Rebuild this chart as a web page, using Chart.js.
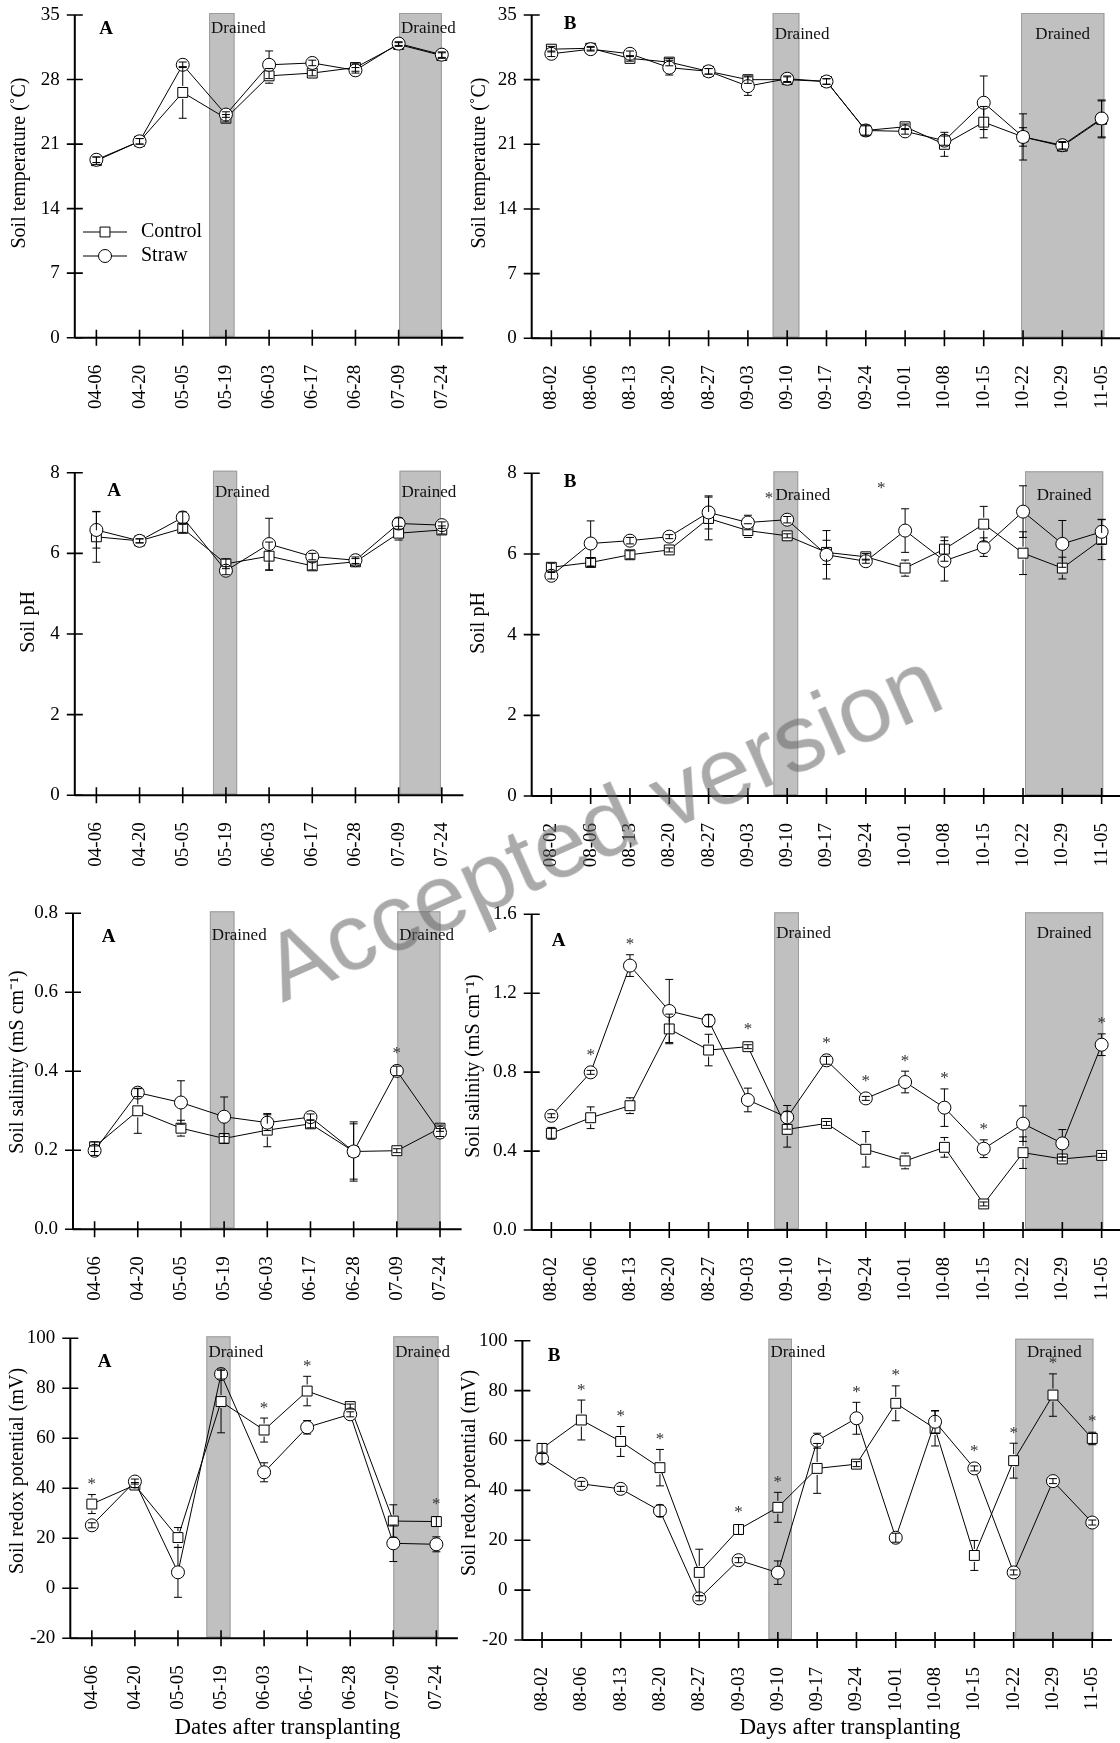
<!DOCTYPE html>
<html>
<head>
<meta charset="utf-8">
<title>Soil temperature, pH, salinity and redox potential</title>
<script src="https://cdn.jsdelivr.net/npm/chart.js@4.4.1/dist/chart.umd.min.js"></script>
<style>
  html, body { margin: 0; padding: 0; background: #fff; }
  body { position: relative; width: 1120px; height: 1743px; overflow: hidden; }
  canvas { position: absolute; }
  #watermark {
    position: absolute; left: 602px; top: 825px;
    transform: translate(-50%, -50%) rotate(-24deg);
    font-family: "Liberation Sans", Arial, sans-serif; font-size: 95px; line-height: 1;
    white-space: nowrap; color: rgba(100, 100, 100, 0.55); pointer-events: none;
  }
</style>
</head>
<body>
<div id="watermark">Accepted version</div>
<script>
// sampling dates
var datesA = ['04-06', '04-20', '05-05', '05-19', '06-03', '06-17', '06-28', '07-09', '07-24'];
var datesB = ['08-02', '08-06', '08-13', '08-20', '08-27', '09-03', '09-10', '09-17', '09-24',
              '10-01', '10-08', '10-15', '10-22', '10-29', '11-05'];

// soil temperature (C)
var tempAControl = [19.2, 21.3, 26.6, 23.8, 28.4, 28.7, 29.3, 31.8, 30.6];
var tempAControlErr = [0.4, 0.3, 2.8, 0.4, 0.8, 0.3, 0.4, 0.2, 0.3];
var tempAStraw = [19.3, 21.3, 29.6, 24.2, 29.6, 29.8, 29.0, 31.9, 30.7];
var tempAStrawErr = [0.3, 0.3, 0.3, 0.3, 1.5, 0.3, 0.3, 0.2, 0.3];
var tempBControl = [31.3, 31.4, 30.3, 29.9, 28.9, 28.0, 28.0, 27.8, 22.5, 22.9, 21.0, 23.4, 21.8, 20.8, 23.7];
var tempBControlErr = [0.3, 0.2, 0.3, 0.4, 0.3, 0.4, 0.3, 0.3, 0.5, 0.3, 1.3, 1.7, 2.5, 0.4, 2.0];
var tempBStraw = [30.8, 31.3, 30.8, 29.3, 28.9, 27.3, 28.1, 27.8, 22.5, 22.4, 21.4, 25.5, 21.8, 20.9, 23.8];
var tempBStrawErr = [0.3, 0.2, 0.3, 0.8, 0.3, 1.0, 0.3, 0.3, 0.6, 0.3, 0.5, 2.9, 1.0, 0.4, 2.0];

// soil pH
var phAControl = [6.41, 6.31, 6.62, 5.74, 5.93, 5.69, 5.79, 6.50, 6.58];
var phAControlErr = [0.63, 0.05, 0.1, 0.12, 0.35, 0.1, 0.08, 0.17, 0.1];
var phAStraw = [6.58, 6.31, 6.89, 5.57, 6.23, 5.92, 5.83, 6.74, 6.70];
var phAStrawErr = [0.45, 0.05, 0.14, 0.1, 0.64, 0.08, 0.08, 0.14, 0.08];
var phBControl = [5.67, 5.79, 5.98, 6.10, 6.88, 6.58, 6.45, 6.04, 5.93, 5.65, 6.12, 6.74, 6.02, 5.65, 6.36];
var phBControlErr = [0.1, 0.1, 0.1, 0.05, 0.53, 0.17, 0.05, 0.3, 0.08, 0.2, 0.3, 0.44, 0.53, 0.27, 0.5];
var phBStraw = [5.46, 6.26, 6.33, 6.43, 7.03, 6.78, 6.85, 5.98, 5.82, 6.58, 5.83, 6.17, 7.05, 6.25, 6.55];
var phBStrawErr = [0.08, 0.56, 0.08, 0.05, 0.41, 0.18, 0.08, 0.6, 0.05, 0.54, 0.5, 0.23, 0.64, 0.58, 0.3];

// soil salinity (mS cm-1)
var salAControl = [0.209, 0.300, 0.256, 0.230, 0.251, 0.267, 0.197, 0.199, 0.256];
var salAControlErr = [0.012, 0.057, 0.02, 0.012, 0.042, 0.01, 0.07, 0.005, 0.008];
var salAStraw = [0.199, 0.346, 0.321, 0.285, 0.270, 0.284, 0.197, 0.401, 0.245];
var salAStrawErr = [0.012, 0.01, 0.055, 0.05, 0.02, 0.008, 0.075, 0.012, 0.01];
var salBControl = [0.49, 0.569, 0.63, 1.019, 0.912, 0.929, 0.51, 0.54, 0.409, 0.35, 0.419, 0.132, 0.392, 0.36, 0.378];
var salBControlErr = [0.03, 0.055, 0.04, 0.075, 0.08, 0.01, 0.09, 0.01, 0.09, 0.04, 0.05, 0.01, 0.08, 0.01, 0.01];
var salBStraw = [0.579, 0.799, 1.34, 1.11, 1.061, 0.659, 0.571, 0.86, 0.667, 0.75, 0.62, 0.412, 0.539, 0.439, 0.939];
var salBStrawErr = [0.01, 0.01, 0.055, 0.16, 0.03, 0.06, 0.06, 0.02, 0.01, 0.055, 0.095, 0.045, 0.09, 0.07, 0.055];

// soil redox potential (mV)
var redoxAControl = [33.7, 41.3, 20.3, 74.7, 63.3, 78.9, 72.7, 26.9, 26.7];
var redoxAControlErr = [3.8, 1, 4, 12.5, 4.8, 5.9, 1, 6.5, 2];
var redoxAStraw = [25.2, 42.7, 6.4, 85.7, 46.4, 64.4, 69.6, 18.0, 17.6];
var redoxAStrawErr = [1, 1, 10, 2, 3.8, 2.7, 1, 7.3, 3];
var redoxBControl = [56.8, 68.2, 59.6, 49.1, 7.1, 24.3, 33.2, 48.8, 50.5, 74.9, 64.8, 13.9, 51.9, 78.2, 60.8];
var redoxBControlErr = [2, 8, 6, 7.3, 9.3, 2, 6, 10, 1, 7, 7, 6, 7, 8.5, 2.5];
var redoxBStraw = [52.8, 42.6, 40.6, 31.8, -3.3, 12.0, 7.0, 59.9, 68.9, 21.0, 67.5, 48.8, 7.1, 43.7, 27.1];
var redoxBStrawErr = [2, 1, 1, 2.3, 1, 1, 4.7, 3, 6.4, 1.8, 4.5, 1, 1, 1, 1];

// significant differences (index of date), drained periods (in date-index units)
var salAStars = [7];
var salBStars = [1, 2, 5, 7, 8, 9, 10, 11, 14];
var redoxAStars = [0, 4, 5, 8];
var redoxBStars = [1, 2, 3, 5, 6, 8, 9, 11, 12, 13, 14];
var phBLooseStars = [[5.54, 7.37], [8.39, 7.62]];

var SERIF = '"Liberation Serif", "Times New Roman", serif';
Chart.defaults.font.family = SERIF;
Chart.defaults.color = '#000';

var panelInfo = {};

function idxPixel(xs, f) {
  var step = xs.getPixelForValue(1) - xs.getPixelForValue(0);
  return xs.getPixelForValue(0) + f * step;
}

var decoPlugin = {
  id: 'deco',
  beforeDatasetsDraw: function (chart) {
    var p = panelInfo[chart.canvas.id];
    var ctx = chart.ctx, xs = chart.scales.x, a = chart.chartArea;
    ctx.save();
    ctx.font = '17px ' + SERIF;
    ctx.textBaseline = 'middle';
    ctx.textAlign = 'left';
    p.bands.forEach(function (b) {
      var x0 = idxPixel(xs, b[0]), x1 = idxPixel(xs, b[1]);
      ctx.fillStyle = '#c0c0c0';
      ctx.fillRect(x0, a.top - 2, x1 - x0, a.bottom - a.top + 1);
      ctx.strokeStyle = '#9c9c9c';
      ctx.lineWidth = 1;
      ctx.strokeRect(x0 + 0.5, a.top - 1.5, x1 - x0 - 1, a.bottom - a.top);
      var w = ctx.measureText('Drained').width;
      var tx = (x1 - x0 > w + 6) ? (x0 + x1 - w) / 2 : x0 + 2;
      ctx.fillStyle = '#111';
      ctx.fillText('Drained', tx, a.top + p.drainedDy);
    });
    ctx.restore();
  },
  afterDatasetsDraw: function (chart) {
    var p = panelInfo[chart.canvas.id];
    var ctx = chart.ctx, xs = chart.scales.x, ys = chart.scales.y, a = chart.chartArea;
    var ox = p.box[0], oy = p.box[1];
    ctx.save();

    // error bars
    ctx.strokeStyle = '#000';
    ctx.lineWidth = 1;
    p.errors.forEach(function (errs, d) {
      var vals = chart.data.datasets[d].data;
      errs.forEach(function (e, j) {
        var px = xs.getPixelForValue(j), py = ys.getPixelForValue(vals[j]);
        var hi = ys.getPixelForValue(vals[j] + e), lo = ys.getPixelForValue(vals[j] - e);
        ctx.beginPath();
        if (py - hi < 6.5) {
          ctx.moveTo(px, hi); ctx.lineTo(px, lo);
        } else {
          ctx.moveTo(px, hi); ctx.lineTo(px, py - 6.5);
          ctx.moveTo(px, py + 6.5); ctx.lineTo(px, lo);
        }
        ctx.moveTo(px - 4, hi); ctx.lineTo(px + 4, hi);
        ctx.moveTo(px - 4, lo); ctx.lineTo(px + 4, lo);
        ctx.stroke();
      });
    });

    // axes with ticks crossing the line
    ctx.lineWidth = 2;
    ctx.beginPath();
    ctx.moveTo(a.left, a.top); ctx.lineTo(a.left, a.bottom);
    ctx.moveTo(a.left, a.bottom); ctx.lineTo(a.right, a.bottom);
    ctx.stroke();
    ctx.lineWidth = 1.6;
    ctx.beginPath();
    ys.ticks.forEach(function (t) {
      var y = ys.getPixelForValue(t.value);
      ctx.moveTo(a.left - 8, y); ctx.lineTo(a.left + 8, y);
    });
    chart.data.labels.forEach(function (l, j) {
      var x = xs.getPixelForValue(j);
      ctx.moveTo(x, a.bottom - 8); ctx.lineTo(x, a.bottom + 8);
    });
    ctx.stroke();

    // asterisks
    ctx.fillStyle = '#333';
    ctx.font = '17px ' + SERIF;
    ctx.textAlign = 'center';
    ctx.textBaseline = 'middle';
    p.stars.forEach(function (j) {
      var top = Infinity;
      chart.data.datasets.forEach(function (ds, d) {
        var v = ds.data[j], e = p.errors[d][j];
        top = Math.min(top, ys.getPixelForValue(v + e), ys.getPixelForValue(v) - 7);
      });
      ctx.fillText('*', xs.getPixelForValue(j), top - 10);
    });
    p.looseStars.forEach(function (s) {
      ctx.fillText('*', idxPixel(xs, s[0]), ys.getPixelForValue(s[1]));
    });

    // panel letter and titles
    ctx.fillStyle = '#000';
    ctx.font = 'bold 19px ' + SERIF;
    ctx.fillText(p.letter, p.letterAt[0] - ox, p.letterAt[1] - oy);
    ctx.font = '20px ' + SERIF;
    ctx.save();
    ctx.translate(p.yTitleAt[0] - ox, p.yTitleAt[1] - oy);
    ctx.rotate(-Math.PI / 2);
    ctx.fillText(p.yTitle, 0, 0);
    ctx.restore();
    if (p.xTitle) {
      ctx.font = '23px ' + SERIF;
      ctx.fillText(p.xTitle, p.xTitleAt[0] - ox, p.xTitleAt[1] - oy);
    }

    // legend
    if (p.legend) {
      ctx.font = '20px ' + SERIF;
      ctx.textAlign = 'left';
      chart.data.datasets.forEach(function (ds, d) {
        var y = p.legend.rows[d] - oy;
        var x0 = p.legend.line[0] - ox, x1 = p.legend.line[1] - ox;
        ctx.strokeStyle = '#000';
        ctx.lineWidth = 1;
        ctx.beginPath();
        ctx.moveTo(x0, y); ctx.lineTo(x1, y);
        ctx.stroke();
        ctx.fillStyle = '#fff';
        Chart.helpers.drawPoint(ctx, { pointStyle: ds.pointStyle, radius: ds.pointRadius, borderWidth: 1, rotation: 0 }, (x0 + x1) / 2, y);
        ctx.fillStyle = '#000';
        ctx.fillText(ds.label, p.legend.text - ox, y);
      });
    }
    ctx.restore();
  }
};

function makePanel(p) {
  var canvas = document.createElement('canvas');
  canvas.id = p.id;
  canvas.width = p.box[2];
  canvas.height = p.box[3];
  canvas.style.left = p.box[0] + 'px';
  canvas.style.top = p.box[1] + 'px';
  document.body.insertBefore(canvas, document.getElementById('watermark'));
  panelInfo[p.id] = p;

  var xH = 80;
  var yW = p.area[0] - p.box[0];
  var padTop = p.area[1] - p.box[1];
  var padRight = p.box[0] + p.box[2] - p.area[2];
  var padBottom = p.box[1] + p.box[3] - p.area[3] - xH;

  new Chart(canvas, {
    type: 'line',
    data: {
      labels: p.labels,
      datasets: [{
        label: 'Control',
        data: p.control,
        order: 1,
        borderColor: '#000',
        borderWidth: 1,
        tension: 0,
        pointStyle: 'rect',
        pointRadius: 7,
        pointBackgroundColor: '#fff',
        pointBorderColor: '#000',
        pointBorderWidth: 1
      }, {
        label: 'Straw',
        data: p.straw,
        order: 0,
        borderColor: '#000',
        borderWidth: 1,
        tension: 0,
        pointStyle: 'circle',
        pointRadius: 6.5,
        pointBackgroundColor: '#fff',
        pointBorderColor: '#000',
        pointBorderWidth: 1
      }]
    },
    options: {
      responsive: false,
      animation: false,
      layout: { autoPadding: false, padding: { left: 0, top: padTop, right: padRight, bottom: padBottom } },
      plugins: { legend: { display: false }, tooltip: { enabled: false } },
      scales: {
        x: {
          offset: true,
          grid: { display: false, drawTicks: false },
          border: { display: false },
          ticks: { autoSkip: false, minRotation: 90, maxRotation: 90, padding: 27, color: '#000', font: { size: 19 } },
          afterFit: function (s) {
            s.height = xH;
            s.paddingLeft = 0; s.paddingRight = 0; s.paddingTop = 0; s.paddingBottom = 0;
          }
        },
        y: {
          min: p.ymin,
          max: p.ymax,
          grid: { display: false, drawTicks: false },
          border: { display: false },
          ticks: {
            stepSize: p.ystep,
            padding: 15,
            color: '#000',
            font: { size: 19 },
            callback: function (v) { return Number(v).toFixed(p.decimals); }
          },
          afterFit: function (s) {
            s.width = yW;
            s.paddingLeft = 0; s.paddingRight = 0; s.paddingTop = 0; s.paddingBottom = 0;
          }
        }
      }
    },
    plugins: [decoPlugin]
  });
}

makePanel({
  id: 'tempA', box: [0, 0, 470, 460], area: [74.8, 15, 463.4, 337.7],
  labels: datesA, control: tempAControl, straw: tempAStraw, errors: [tempAControlErr, tempAStrawErr],
  ymin: 0, ymax: 35, ystep: 7, decimals: 0,
  bands: [[2.61, 3.2], [7.01, 8.0]], drainedDy: 14, stars: [], looseStars: [],
  letter: 'A', letterAt: [106, 29], yTitle: 'Soil temperature (˚C)', yTitleAt: [19.6, 163],
  legend: { line: [83, 127], text: 141, rows: [232, 256] }
});
makePanel({
  id: 'tempB', box: [440, 0, 682, 460], area: [531.7, 15, 1121.3, 338.3],
  labels: datesB, control: tempBControl, straw: tempBStraw, errors: [tempBControlErr, tempBStrawErr],
  ymin: 0, ymax: 35, ystep: 7, decimals: 0,
  bands: [[5.63, 6.31], [11.95, 14.07]], drainedDy: 20, stars: [], looseStars: [],
  letter: 'B', letterAt: [570, 24], yTitle: 'Soil temperature (˚C)', yTitleAt: [480, 163]
});
makePanel({
  id: 'phA', box: [0, 440, 470, 460], area: [74.8, 472.7, 463.4, 795.3],
  labels: datesA, control: phAControl, straw: phAStraw, errors: [phAControlErr, phAStrawErr],
  ymin: 0, ymax: 8, ystep: 2, decimals: 0,
  bands: [[2.70, 3.26], [7.02, 7.98]], drainedDy: 20, stars: [], looseStars: [],
  letter: 'A', letterAt: [114, 491], yTitle: 'Soil pH', yTitleAt: [28.6, 622]
});
makePanel({
  id: 'phB', box: [440, 440, 682, 460], area: [531.7, 473.3, 1121.3, 796],
  labels: datesB, control: phBControl, straw: phBStraw, errors: [phBControlErr, phBStrawErr],
  ymin: 0, ymax: 8, ystep: 2, decimals: 0,
  bands: [[5.65, 6.28], [12.05, 14.04]], drainedDy: 22, stars: [], looseStars: phBLooseStars,
  letter: 'B', letterAt: [570, 482], yTitle: 'Soil pH', yTitleAt: [478.6, 623]
});
makePanel({
  id: 'salA', box: [0, 880, 470, 440], area: [73, 913.3, 461.6, 1229.3],
  labels: datesA, control: salAControl, straw: salAStraw, errors: [salAControlErr, salAStrawErr],
  ymin: 0, ymax: 0.8, ystep: 0.2, decimals: 1,
  bands: [[2.67, 3.24], [7.01, 8.01]], drainedDy: 22, stars: salAStars, looseStars: [],
  letter: 'A', letterAt: [108.5, 936.7], yTitle: 'Soil salinity (mS cm⁻¹)', yTitleAt: [17.5, 1062]
});
makePanel({
  id: 'salB', box: [440, 880, 682, 440], area: [531.7, 914.3, 1121.3, 1230],
  labels: datesB, control: salBControl, straw: salBStraw, errors: [salBControlErr, salBStrawErr],
  ymin: 0, ymax: 1.6, ystep: 0.4, decimals: 1,
  bands: [[5.67, 6.30], [12.05, 14.04]], drainedDy: 19, stars: salBStars, looseStars: [],
  letter: 'A', letterAt: [558.5, 940.7], yTitle: 'Soil salinity (mS cm⁻¹)', yTitleAt: [474, 1066]
});
makePanel({
  id: 'redoxA', box: [0, 1300, 470, 443], area: [70.3, 1338.3, 457.9, 1638.3],
  labels: datesA, control: redoxAControl, straw: redoxAStraw, errors: [redoxAControlErr, redoxAStrawErr],
  ymin: -20, ymax: 100, ystep: 20, decimals: 0,
  bands: [[2.66, 3.22], [7.0, 8.05]], drainedDy: 14, stars: redoxAStars, looseStars: [],
  letter: 'A', letterAt: [104.5, 1361.7], yTitle: 'Soil redox potential (mV)', yTitleAt: [17.5, 1471],
  xTitle: 'Dates after transplanting', xTitleAt: [287.5, 1728]
});
makePanel({
  id: 'redoxB', box: [440, 1300, 682, 443], area: [522.4, 1340.7, 1111.9, 1640],
  labels: datesB, control: redoxBControl, straw: redoxBStraw, errors: [redoxBControlErr, redoxBStrawErr],
  ymin: -20, ymax: 100, ystep: 20, decimals: 0,
  bands: [[5.76, 6.36], [12.04, 14.03]], drainedDy: 12, stars: redoxBStars, looseStars: [],
  letter: 'B', letterAt: [554, 1356], yTitle: 'Soil redox potential (mV)', yTitleAt: [469.6, 1473],
  xTitle: 'Days after transplanting', xTitleAt: [850, 1728]
});
</script>
</body>
</html>
